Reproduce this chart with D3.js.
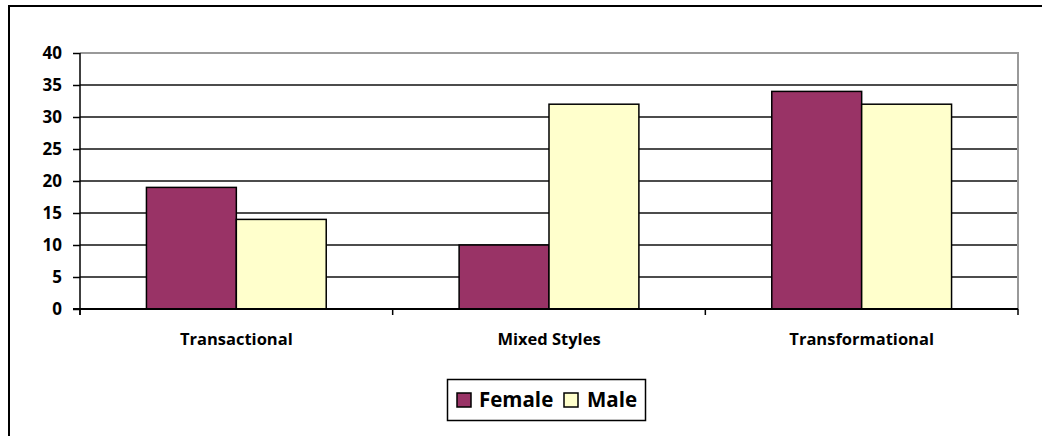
<!DOCTYPE html>
<html>
<head>
<meta charset="utf-8">
<script src="https://cdn.jsdelivr.net/npm/d3@7"></script>
<style>
  html, body { margin: 0; padding: 0; background: #fff; }
  svg { display: block; }
  text { font-family: "Open Sans", Lato, sans-serif; font-weight: bold; fill: #000; }
</style>
</head>
<body>
<svg id="chart" width="1042" height="436"></svg>
<script>
// Leadership style counts by gender
const categories = ["Transactional", "Mixed Styles", "Transformational"];
const seriesNames = ["Female", "Male"];
const femaleValues = [19, 10, 34];
const maleValues = [14, 32, 32];
const yTicks = [0, 5, 10, 15, 20, 25, 30, 35, 40];

const colors = { Female: "#993366", Male: "#FFFFCC" };

const svg = d3.select("#chart");

// chart frame: top and left edges only
svg.append("line").attr("x1", 8).attr("x2", 1042).attr("y1", 6).attr("y2", 6)
  .attr("stroke", "#000").attr("stroke-width", 2);
svg.append("line").attr("x1", 9).attr("x2", 9).attr("y1", 5).attr("y2", 436)
  .attr("stroke", "#000").attr("stroke-width", 2);

const plot = { left: 80, right: 1018, top: 53, bottom: 309 };

const x = d3.scaleBand().domain(categories).range([plot.left, plot.right]).padding(0);
const xInner = d3.scaleBand().domain(seriesNames)
  .range([x.bandwidth() * 0.2125, x.bandwidth() * 0.7875]).padding(0);
const y = d3.scaleLinear().domain([0, 40]).range([plot.bottom, plot.top]);

// horizontal gridlines
svg.append("g").selectAll("line").data(yTicks.filter(t => t > 0 && t < 40)).join("line")
  .attr("x1", plot.left).attr("x2", plot.right)
  .attr("y1", d => y(d)).attr("y2", d => y(d))
  .attr("stroke", "#111").attr("stroke-width", 1.5);

// plot area border (top and right)
svg.append("path")
  .attr("d", `M${plot.left},${y(40)}H${plot.right}V${plot.bottom}`)
  .attr("fill", "none").attr("stroke", "#999").attr("stroke-width", 2);

// bars
const rows = categories.map((c, i) => ({ cat: c, Female: femaleValues[i], Male: maleValues[i] }));
svg.append("g").selectAll("g").data(rows).join("g")
  .attr("transform", d => `translate(${x(d.cat)},0)`)
  .selectAll("rect")
  .data(d => seriesNames.map(s => ({ s, v: d[s] })))
  .join("rect")
  .attr("x", d => xInner(d.s))
  .attr("width", xInner.bandwidth())
  .attr("y", d => y(d.v))
  .attr("height", d => y(0) - y(d.v))
  .attr("fill", d => colors[d.s])
  .attr("stroke", "#000").attr("stroke-width", 1.5);

// y axis
const yAxis = svg.append("g").attr("transform", `translate(${plot.left},0)`)
  .call(d3.axisLeft(y).tickValues(yTicks).tickSize(7).tickPadding(11).tickFormat(d3.format("d")));
yAxis.select(".domain").attr("stroke", "#000").attr("stroke-width", 1.5)
  .attr("d", `M0,${y(40)}V${plot.bottom + 6}`);
yAxis.selectAll(".tick line").attr("stroke", "#000").attr("stroke-width", 1.5);
yAxis.selectAll(".tick text").style("font-size", "17px").style("font-family", "'Open Sans', sans-serif")
  .style("font-weight", "bold").attr("fill", "#000");

// x axis baseline with category separators
svg.append("line").attr("x1", plot.left - 7).attr("x2", plot.right)
  .attr("y1", plot.bottom).attr("y2", plot.bottom)
  .attr("stroke", "#000").attr("stroke-width", 2);
const separators = categories.map(c => x(c) + x.bandwidth()).concat([plot.left]);
svg.append("g").selectAll("line").data(separators).join("line")
  .attr("x1", d => d).attr("x2", d => d)
  .attr("y1", plot.bottom).attr("y2", plot.bottom + 6)
  .attr("stroke", "#000").attr("stroke-width", 1.5);

// category labels
svg.append("g").selectAll("text").data(categories).join("text")
  .attr("x", d => x(d) + x.bandwidth() / 2)
  .attr("y", 345)
  .attr("text-anchor", "middle")
  .style("font-size", "16.5px")
  .text(d => d);

// legend
const legend = svg.append("g");
legend.append("rect").attr("x", 447.5).attr("y", 379.5).attr("width", 198).attr("height", 41)
  .attr("fill", "#fff").attr("stroke", "#000").attr("stroke-width", 1.5);
const legendItems = [{ s: "Female", sx: 457, tx: 479 }, { s: "Male", sx: 564, tx: 587 }];
legendItems.forEach(it => {
  legend.append("rect").attr("x", it.sx).attr("y", 393).attr("width", 14).attr("height", 14)
    .attr("fill", colors[it.s]).attr("stroke", "#000").attr("stroke-width", 1.5);
  legend.append("text").attr("x", it.tx).attr("y", 407).style("font-size", "20.5px").text(it.s);
});
</script>
</body>
</html>
